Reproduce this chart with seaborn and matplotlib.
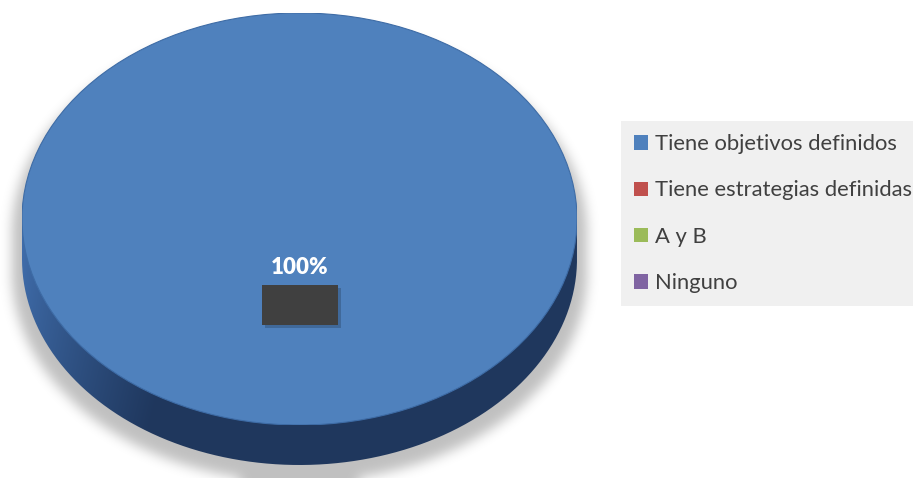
import numpy as np
import matplotlib
matplotlib.use("Agg")
import matplotlib.pyplot as plt
import seaborn as sns
from matplotlib.patches import Patch, Rectangle, PathPatch, Ellipse
from matplotlib.path import Path
from matplotlib.colors import to_rgb

# Survey answers and their shares (%)
categories = ["Tiene objetivos definidos", "Tiene estrategias definidas", "A y B", "Ninguno"]
shares = [100, 0, 0, 0]
palette = ["#4f81bd", "#c0504d", "#9bbb59", "#8064a2"]

sns.set_theme(style="white")
plt.rcParams["font.family"] = ["Lato", "DejaVu Sans"]

W, H = 913, 478
fig = plt.figure(figsize=(W / 100, H / 100), dpi=100)
fig.patch.set_facecolor("white")

# Pixel-space canvas for the 3D body, shadow and label
bg = fig.add_axes([0, 0, 1, 1])
bg.set_xlim(0, W)
bg.set_ylim(H, 0)
bg.axis("off")

cx, cy, rx, ry, depth = 299.5, 219.0, 277.5, 206.0, 40.0

# soft drop shadow under the disc
yy, xx = np.mgrid[0:H, 0:W] + 0.5


def ellipse_mask(x0, y0, a, b):
    return ((xx - x0) / a) ** 2 + ((yy - y0) / b) ** 2 <= 1


sdy, grow = 14.0, 10.0
mask = (ellipse_mask(cx, cy + sdy, rx + grow, ry + 3)
        | ellipse_mask(cx, cy + sdy + depth, rx + grow, ry + 3)
        | ((np.abs(xx - cx) <= rx + grow) & (yy >= cy + sdy) & (yy <= cy + sdy + depth))).astype(float)


def gblur(a, sigma):
    r = int(3 * sigma)
    k = np.exp(-0.5 * (np.arange(-r, r + 1) / sigma) ** 2)
    k /= k.sum()
    a = np.apply_along_axis(lambda v: np.convolve(np.pad(v, r, mode="edge"), k, mode="valid"), 1, a)
    a = np.apply_along_axis(lambda v: np.convolve(np.pad(v, r, mode="edge"), k, mode="valid"), 0, a)
    return a


shadow = gblur(mask, 6.0)
rgba = np.zeros((H, W, 4))
rgba[..., 3] = 0.25 * shadow
bg.imshow(rgba, extent=(0, W, H, 0), interpolation="bilinear", zorder=1)

# side wall of the disc with a left-to-right shading
t = np.linspace(0, np.pi, 200)
side_pts = [(cx + rx, cy)] + [(cx + rx * np.cos(a), cy + depth + ry * np.sin(a)) for a in t] + [(cx - rx, cy), (cx + rx, cy)]
side_path = Path(side_pts)
side_patch = PathPatch(side_path, facecolor="none", edgecolor="none")
bg.add_patch(side_patch)

light = np.array(to_rgb("#416fae"))
dark = np.array(to_rgb("#1f375d"))
u = np.clip(((xx - (cx - rx)) / (2 * rx)) * 3.0, 0, 1) ** 0.8
vert = np.clip((yy - cy) / (ry + depth), 0, 1)
mix = np.clip(u + 0.3 * vert, 0, 1)[..., None]
grad = light * (1 - mix) + dark * mix
side_img = bg.imshow(grad, extent=(0, W, H, 0), interpolation="bilinear", zorder=2)
side_img.set_clip_path(side_patch)

# top face: the pie itself, squashed into an ellipse
pax = fig.add_axes([(cx - rx) / W, 1 - (cy + ry) / H, 2 * rx / W, 2 * ry / H])
pax.pie(shares, colors=palette, startangle=90, counterclock=False, radius=1,
        wedgeprops=dict(linewidth=0))
pax.add_patch(Ellipse((0, 0), 2, 2, facecolor="none", edgecolor="#3e6ca6", linewidth=0.8))
pax.set_aspect("auto")
pax.set_xlim(-1, 1)
pax.set_ylim(-1, 1)
pax.axis("off")

# data label
lab = fig.add_axes([0, 0, 1, 1])
lab.set_xlim(0, W)
lab.set_ylim(H, 0)
lab.axis("off")
lab.add_patch(Rectangle((265, 288), 76, 40, facecolor="black", alpha=0.18, edgecolor="none"))
lab.add_patch(Rectangle((262, 285), 76, 40, facecolor="#404040", edgecolor="none"))
lab.text(300, 268, f"{shares[0]:.0f}%", color="white", fontsize=16, fontweight="heavy",
         ha="center", va="center")

# legend
handles = [Patch(facecolor=c, edgecolor="none", label=l) for c, l in zip(palette, categories)]
leg = fig.legend(handles=handles, loc="upper left", bbox_to_anchor=(621 / W, 1 - 121 / H),
                 frameon=True, facecolor="#f0f0f0", edgecolor="none", fancybox=False,
                 framealpha=1, fontsize=15.8, labelcolor="#404040", labelspacing=1.2,
                 handlelength=0.62, handleheight=0.62, handletextpad=0.32, borderpad=0.6,
                 borderaxespad=0)
leg.get_frame().set_linewidth(0)

fig.savefig("out.png", dpi=100, facecolor="white")
